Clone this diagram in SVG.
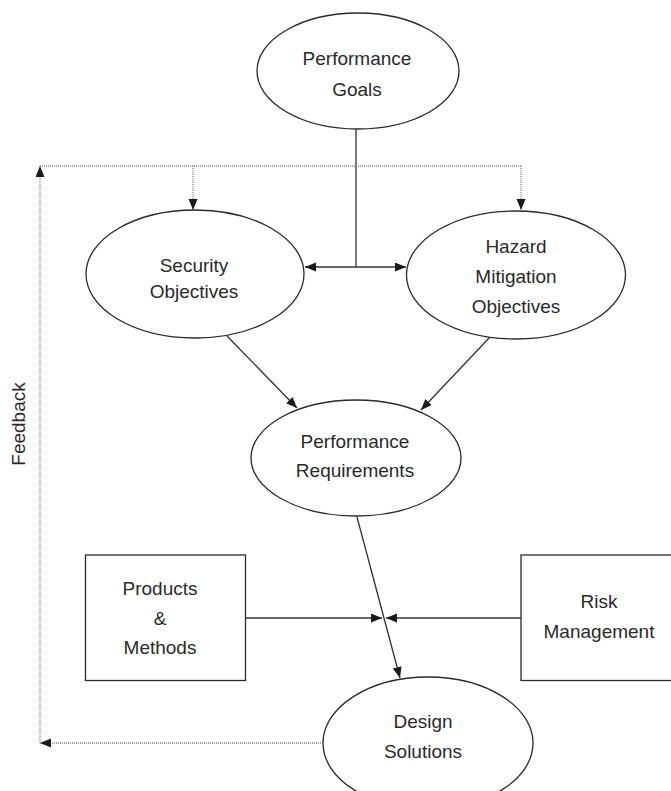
<svg xmlns="http://www.w3.org/2000/svg" width="671" height="791" viewBox="0 0 671 791">
  <style>
    .shape { fill: #ffffff; stroke: #2a2a2a; stroke-width: 1.3; }
    .label { font-family: "Liberation Sans", Arial, sans-serif; font-size: 19px; fill: #2a2a2a; text-anchor: middle; }
    .flow { fill: none; stroke: #333333; stroke-width: 1.3; }
    .feedback { fill: none; stroke: #8a8a8a; stroke-width: 1.4; stroke-dasharray: 1 1; }
  </style>
  <defs>
    <marker id="arrow" markerUnits="userSpaceOnUse" markerWidth="12" markerHeight="10" refX="11" refY="4.5" orient="auto">
      <path d="M0,0 L11,4.5 L0,9 z" fill="#1a1a1a"/>
    </marker>
  </defs>

  <rect width="671" height="791" fill="#ffffff"/>

  <!-- connectors -->
  <g id="connectors">
    <!-- goals branch to the two objective ellipses -->
    <path class="flow" d="M356,129 L356,267"/>
    <path class="flow" d="M356,267 L305,267" marker-end="url(#arrow)"/>
    <path class="flow" d="M356,267 L406,267" marker-end="url(#arrow)"/>
    <!-- objectives to requirements -->
    <path class="flow" d="M227,336 L297,408" marker-end="url(#arrow)"/>
    <path class="flow" d="M490,337 L421,410" marker-end="url(#arrow)"/>
    <!-- requirements to design solutions -->
    <path class="flow" d="M357,517 L400,678" marker-end="url(#arrow)"/>
    <!-- side inputs -->
    <path class="flow" d="M245,618 L382,618" marker-end="url(#arrow)"/>
    <path class="flow" d="M521,618 L386,618" marker-end="url(#arrow)"/>
    <!-- feedback loop -->
    <path class="feedback" d="M323,743 L40,743" marker-end="url(#arrow)"/>
    <path class="feedback" d="M40,743 L40,166" marker-end="url(#arrow)"/>
    <path class="feedback" d="M40,166 L521,166"/>
    <path class="feedback" d="M193,166 L193,210" marker-end="url(#arrow)"/>
    <path class="feedback" d="M521,166 L521,210" marker-end="url(#arrow)"/>
  </g>

  <text class="label" transform="translate(25,424) rotate(-90)">Feedback</text>

  <g id="performance-goals">
    <ellipse class="shape" cx="358" cy="71" rx="101" ry="58"/>
    <text class="label" x="357" y="65">Performance</text>
    <text class="label" x="357" y="96">Goals</text>
  </g>

  <g id="security-objectives">
    <ellipse class="shape" cx="195" cy="274" rx="109" ry="64"/>
    <text class="label" x="194" y="272">Security</text>
    <text class="label" x="194" y="298">Objectives</text>
  </g>

  <g id="hazard-mitigation-objectives">
    <ellipse class="shape" cx="516" cy="275" rx="109.5" ry="64"/>
    <text class="label" x="516" y="253">Hazard</text>
    <text class="label" x="516" y="283">Mitigation</text>
    <text class="label" x="516" y="313">Objectives</text>
  </g>

  <g id="performance-requirements">
    <ellipse class="shape" cx="356" cy="458" rx="105" ry="58"/>
    <text class="label" x="355" y="448">Performance</text>
    <text class="label" x="355" y="477">Requirements</text>
  </g>

  <g id="products-methods">
    <rect class="shape" x="85.5" y="555" width="160" height="125.5"/>
    <text class="label" x="160" y="595">Products</text>
    <text class="label" x="160" y="625">&amp;</text>
    <text class="label" x="160" y="654">Methods</text>
  </g>

  <g id="risk-management">
    <rect class="shape" x="521" y="555" width="160" height="125.5"/>
    <text class="label" x="599" y="608">Risk</text>
    <text class="label" x="599" y="638">Management</text>
  </g>

  <g id="design-solutions">
    <ellipse class="shape" cx="428" cy="743" rx="105" ry="66"/>
    <text class="label" x="423" y="728">Design</text>
    <text class="label" x="423" y="758">Solutions</text>
  </g>
</svg>
